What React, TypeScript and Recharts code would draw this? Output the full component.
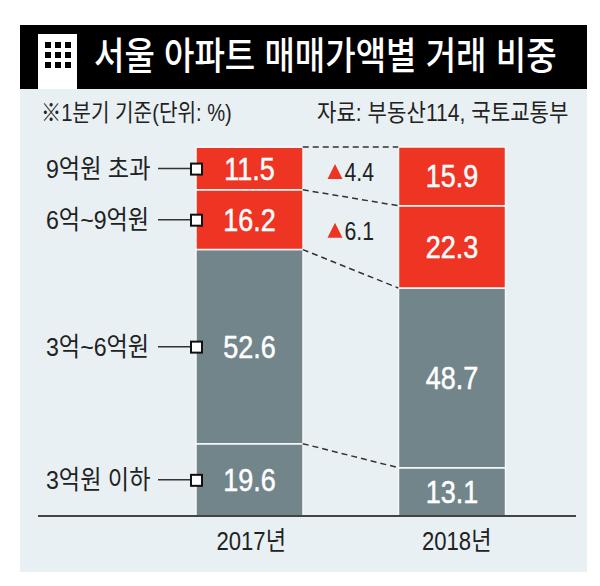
import { BarChart, Bar, XAxis, YAxis, LabelList, ReferenceLine } from 'recharts';

const FONT = '"Liberation Sans", "Noto Sans CJK KR", sans-serif';
const RED = '#ee3524';
const GRAY = '#72858b';
const PANEL = '#e9f0f3';
const INK = '#222222';
const BAR_SIZE = 107;

const years = ['2017년', '2018년'];
const under3 = [19.6, 13.1];
const from3to6 = [52.6, 48.7];
const from6to9 = [16.2, 22.3];
const over9 = [11.5, 15.9];
const delta6to9 = '6.1';
const deltaOver9 = '4.4';

const data = years.map((year, i) => ({
  year,
  '3억원 이하': under3[i],
  '3억~6억원': from3to6[i],
  '6억~9억원': from6to9[i],
  '9억원 초과': over9[i],
}));

// top edge of each stacked segment, for the dashed connectors
const connectors: [number, number][] = [
  [100, 100],
  [19.6 + 52.6 + 16.2, 13.1 + 48.7 + 22.3],
  [19.6 + 52.6, 13.1 + 48.7],
  [19.6, 13.1],
];

// reference line goes centre to centre, only draw the part between the bars
function ConnectorLine({ x1, y1, x2, y2 }: any) {
  return (
    <line
      x1={x1 + BAR_SIZE / 2}
      y1={y1}
      x2={x2 - BAR_SIZE / 2}
      y2={y2}
      stroke="#333"
      strokeWidth={1.5}
      strokeDasharray="6 4"
    />
  );
}

function Narrow({ x, y, sx = 0.9, anchor = 'middle', size, fill = INK, bold = 0, children }: any) {
  return (
    <text
      transform={`translate(${x},${y}) scale(${sx},1)`}
      textAnchor={anchor}
      fontFamily={FONT}
      fontSize={size}
      fill={fill}
      stroke={bold ? fill : 'none'}
      strokeWidth={bold}
    >
      {children}
    </text>
  );
}

function segmentLabel(name: string, delta?: string) {
  return (props: any) => {
    const { x, y, width, height, value, index } = props;
    const cy = y + height / 2;
    return (
      <g>
        <Narrow x={x + width / 2} y={cy + 11} size={31} fill="#ffffff" sx={0.87} bold={0.5}>
          {value}
        </Narrow>
        {index === 0 && (
          <g>
            <Narrow x={x - 150} y={cy + 9} size={26} anchor="start" sx={0.89}>
              {name}
            </Narrow>
            <line x1={x - 38} x2={x} y1={cy} y2={cy} stroke="#333" strokeWidth={1.5} />
            <rect x={x - 5} y={cy - 5} width={11} height={11} fill="#fff" stroke="#111" strokeWidth={2} />
          </g>
        )}
        {index === 1 && delta && (
          <g>
            <polygon
              points={`${x - 71},${y + 32} ${x - 56},${y + 32} ${x - 63.5},${y + 17}`}
              fill={RED}
            />
            <Narrow x={x - 54} y={y + 34} size={25} anchor="start" sx={0.85}>
              {delta}
            </Narrow>
          </g>
        )}
      </g>
    );
  };
}

function YearTick({ x, y, index, payload }: any) {
  return (
    <Narrow x={x + 2 + index * 3} y={y + 26} size={26} sx={0.85}>
      {payload.value}
    </Narrow>
  );
}

function BuildingIcon() {
  const cells = [0, 1, 2];
  return (
    <div style={{ position: 'absolute', left: 38, top: 34, width: 39, height: 55, background: '#fff' }}>
      {cells.map((r) =>
        cells.map((c) => (
          <div
            key={`${r}-${c}`}
            style={{ position: 'absolute', left: 7 + c * 10, top: 8 + r * 10, width: 6, height: 6, background: '#000' }}
          />
        ))
      )}
    </div>
  );
}

function Caption({ left, top, size, color = INK, sx = 0.86, weight = 400, children }: any) {
  return (
    <div
      style={{
        position: 'absolute',
        left,
        top,
        fontFamily: FONT,
        fontSize: size,
        fontWeight: weight,
        color,
        whiteSpace: 'pre',
        lineHeight: 1,
        transform: `scaleX(${sx})`,
        transformOrigin: 'left top',
      }}
    >
      {children}
    </div>
  );
}

const series = [
  { key: '3억원 이하', color: GRAY },
  { key: '3억~6억원', color: GRAY },
  { key: '6억~9억원', color: RED, delta: delta6to9 },
  { key: '9억원 초과', color: RED, delta: deltaOver9 },
];

export default function App() {
  return (
    <div style={{ position: 'absolute', left: 0, top: 0, width: 600, height: 586, background: '#fff', overflow: 'hidden' }}>
      <div style={{ position: 'absolute', left: 20, top: 89, width: 567, height: 483, background: PANEL }} />
      <div style={{ position: 'absolute', left: 20, top: 25, width: 567, height: 64, background: '#000' }} />
      <BuildingIcon />
      <Caption left={94} top={37} size={38} color="#fff" sx={0.87} weight={500}>
        서울 아파트 매매가액별 거래 비중
      </Caption>
      <Caption left={41} top={101} size={24} sx={0.84}>
        ※1분기 기준(단위: %)
      </Caption>
      <Caption left={317} top={101} size={24} sx={0.88}>
        자료: 부동산114, 국토교통부
      </Caption>
      <div style={{ position: 'absolute', left: 0, top: 0 }}>
        <BarChart
          width={600}
          height={586}
          data={data}
          barSize={BAR_SIZE}
          margin={{ top: 147, right: 24, bottom: 40, left: 38 }}
        >
          <XAxis
            dataKey="year"
            height={30}
            padding={{ left: 110, right: 23 }}
            tickLine={false}
            axisLine={{ stroke: '#444', strokeWidth: 2 }}
            tick={<YearTick />}
            interval={0}
          />
          <YAxis hide domain={[0, 100]} />
          {connectors.map(([a, b], i) => (
            <ReferenceLine
              key={i}
              segment={[
                { x: years[0], y: a },
                { x: years[1], y: b },
              ]}
              shape={<ConnectorLine />}
              ifOverflow="visible"
            />
          ))}
          {series.map((s) => (
            <Bar
              key={s.key}
              dataKey={s.key}
              stackId="share"
              fill={s.color}
              stroke="#f3f7f8"
              strokeWidth={1.5}
              isAnimationActive={false}
            >
              <LabelList dataKey={s.key} content={segmentLabel(s.key, s.delta)} />
            </Bar>
          ))}
        </BarChart>
      </div>
    </div>
  );
}
